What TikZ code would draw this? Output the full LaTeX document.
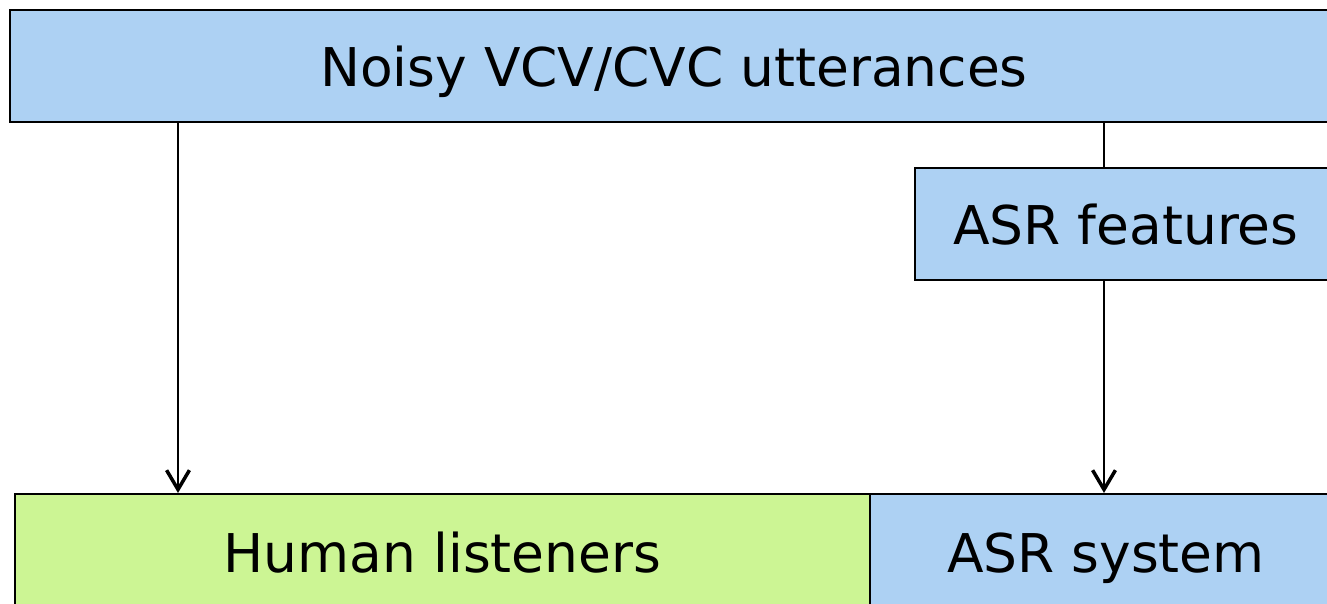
\documentclass[tikz,border=0pt]{standalone}
\usepackage{fontspec}
\setmainfont{DejaVu Sans}
\usetikzlibrary{arrows.meta}

\definecolor{boxblue}{RGB}{173,209,243}
\definecolor{boxgreen}{RGB}{204,245,148}

\tikzset{
    block/.style={draw=black, line width=1.2pt, fill=boxblue, inner sep=0pt,
        text height=23.8pt, text depth=0pt,
        font=\fontsize{30.4}{36}\selectfont},
    flow/.style={line width=1.1pt, -{Straight Barb[length=11pt, width=13pt, line width=2pt]}}
}

\begin{document}
\begin{tikzpicture}[x=0.02cm, y=-0.02cm]
    % --- Canvas (picture is cut at right and bottom) ---
    \useasboundingbox (0,0) rectangle (1327,603);
    \clip (0,0) rectangle (1327,603);

    % --- Boxes ---
    \node[block, minimum width=26.56cm, minimum height=2.24cm] (noisy) at (674,66) {Noisy VCV/CVC utterances};
    \node[block, minimum width=8.44cm, minimum height=2.24cm] (feat) at (1126,224) {ASR features};
    \node[block, fill=boxgreen, minimum width=17.1cm, minimum height=2.32cm] (human) at (442.5,552) {Human listeners};
    \node[block, minimum width=9.44cm, minimum height=2.32cm] (asr) at (1106,552) {ASR system};

    % --- Connectors ---
    \draw[flow] (noisy.south -| 178,0) -- (human.north -| 178,0);
    \draw[line width=1.1pt] (noisy.south -| 1104,0) -- (feat.north -| 1104,0);
    \draw[flow] (feat.south -| 1104,0) -- (asr.north -| 1104,0);
\end{tikzpicture}
\end{document}
